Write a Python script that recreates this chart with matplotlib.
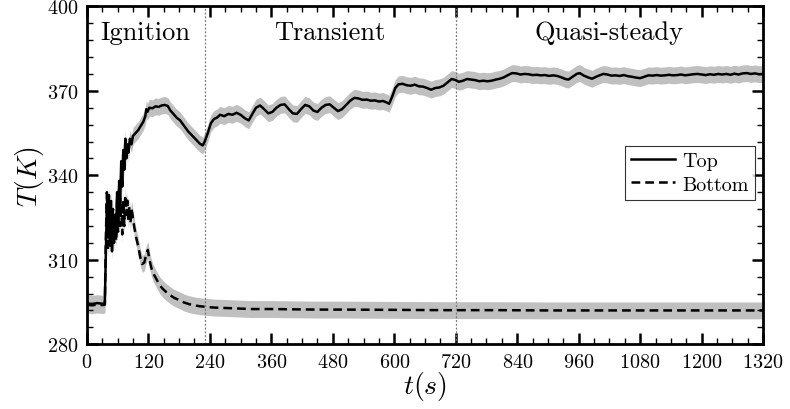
import matplotlib
matplotlib.use("Agg")
import matplotlib.pyplot as plt
import numpy as np

plt.rcParams.update({
    "font.family": "serif",
    "font.serif": ["cmr10"],
    "mathtext.fontset": "cm",
    "axes.unicode_minus": False,
    "axes.formatter.use_mathtext": True,
})

# Top thermocouple temperature history
t_top = [0, 10, 20, 30, 35, 37, 39, 41, 43, 45, 47, 49, 51, 53, 55, 57, 59, 61, 63, 65,
         67, 69, 71, 73, 75, 77, 79, 81, 84, 87, 90, 95, 100, 105, 110, 114, 116, 118, 122, 128,
         134, 140, 146, 152, 158, 163, 168, 175, 182, 190, 198, 206, 214, 220, 226, 230, 236, 242, 248, 254,
         260, 268, 276, 284, 292, 300, 308, 316, 322, 330, 338, 346, 354, 362, 370, 378, 386, 394, 402, 410,
         418, 426, 434, 442, 450, 458, 466, 474, 482, 490, 498, 506, 514, 522, 530, 538, 546, 554, 562, 570,
         578, 586, 590, 596, 602, 608, 616, 624, 632, 640, 648, 656, 664, 672, 680, 688, 696, 704, 712, 720,
         726, 734, 742, 750, 758, 766, 774, 782, 790, 798, 806, 814, 822, 830, 838, 846, 854, 862, 870, 878,
         886, 894, 902, 910, 918, 926, 934, 940, 948, 956, 962, 970, 978, 986, 994, 1002, 1008, 1016, 1024, 1032,
         1040, 1048, 1056, 1064, 1072, 1080, 1088, 1096, 1104, 1112, 1120, 1128, 1136, 1144, 1152, 1160, 1168, 1176, 1184, 1192,
         1200, 1208, 1216, 1224, 1232, 1240, 1248, 1256, 1264, 1272, 1280, 1288, 1296, 1304, 1312, 1320]
T_top = [294.5, 294.3, 294.6, 294.4, 294.5, 312, 330, 318, 333, 315, 328, 313, 322, 316, 326, 318, 334, 322, 338, 330,
         345, 336, 349, 342, 353, 346, 351, 348, 353, 351, 354, 355, 356, 357.5, 359, 361, 363.5, 362.5, 364, 363.8,
         364.5, 364.3, 364.8, 365, 364.6, 363, 362, 360.5, 359.5, 357.5, 355.5, 354, 352.5, 351.3, 350.6, 352, 355, 358.5, 360, 360.5,
         361.5, 361, 361.8, 361.5, 362.2, 361.5, 360.3, 359.5, 361.5, 364, 364.8, 363.5, 362, 362.5, 364, 365, 365.2, 363.5, 362, 361.8,
         363.5, 365, 364.5, 363, 362.5, 364, 365, 365.2, 364, 362.8, 363.5, 365, 366.5, 367.5, 367.3, 366.8, 366.9, 366.5, 366.6, 366.2,
         366.4, 365.8, 365.4, 368, 371, 372.3, 372.5, 372, 371.8, 372.2, 371.6, 371.5, 371, 370.4, 371, 371.2, 371.8, 373, 374.2, 373.8,
         373.2, 373.6, 374.2, 374, 373.8, 373.4, 373.6, 373.4, 373.6, 374, 374.3, 374.8, 375.6, 376.3, 376.2, 375.8, 376, 375.9, 375.6, 375.7,
         375.5, 375.6, 375.3, 375.5, 375.3, 374.8, 374.2, 374, 375, 376, 376.3, 375.4, 374.8, 374.3, 375, 375.6, 376, 375.8, 375.4, 375.5,
         375.3, 375.6, 375.2, 375, 374.7, 374.5, 375, 375.5, 375.4, 375.6, 375.4, 375.5, 375.7, 375.5, 375.6, 375.8, 375.5, 375.7, 375.9, 376,
         375.8, 375.6, 375.9, 375.7, 376, 375.8, 376, 375.7, 376.1, 375.8, 376.2, 376.3, 376, 376.2, 375.9, 376]

# Bottom thermocouple temperature history
t_bot = [0, 10, 20, 30, 35, 37, 39, 41, 43, 45, 47, 49, 51, 53, 55, 57, 59, 61, 63, 65,
         67, 69, 71, 73, 75, 77, 79, 81, 83, 85, 87, 89, 92, 96, 100, 104, 108, 112, 116, 119,
         122, 126, 130, 136, 142, 148, 155, 162, 170, 180, 190, 200, 210, 220, 230, 250, 280, 320, 360, 400,
         450, 500, 600, 700, 800, 900, 1000, 1100, 1200, 1320]
T_bot = [294, 293.8, 294.1, 293.9, 294, 318, 334, 313, 330, 320, 332, 316, 328, 318, 325, 317, 333, 320, 335, 322,
         330, 319, 331, 322, 333, 326, 331, 324, 329, 323, 328, 326, 322, 318, 315, 311, 308.5, 309, 312, 313.5,
         310, 307, 305, 303, 301, 299.7, 298.5, 297.5, 296.5, 295.7, 294.8, 294.2, 293.8, 293.5, 293.3, 293, 292.8, 292.5, 292.5, 292.4,
         292.3, 292.3, 292.2, 292.1, 292.1, 292, 292, 292, 292, 292]

# Measurement uncertainty (K)
uncertainty = 3.0

# Phase boundaries (s) and phase names
phase_bounds = [230, 720]
phase_names = ["Ignition", "Transient", "Quasi-steady"]
phase_centers = [115, 475, 1020]

x_ticks = list(range(0, 1321, 120))
y_ticks = [280, 310, 340, 370, 400]

fig = plt.figure(figsize=(7.9, 4.1), dpi=100)
ax = fig.add_axes([0.110, 0.158, 0.856, 0.824])

t_top_a = np.array(t_top)
T_top_a = np.array(T_top)
t_bot_a = np.array(t_bot)
T_bot_a = np.array(T_bot)

band = "#c0c0c0"
ax.fill_between(t_bot_a, T_bot_a - uncertainty, T_bot_a + uncertainty, color=band, lw=0, zorder=1)
ax.fill_between(t_top_a, T_top_a - uncertainty, T_top_a + uncertainty, color=band, lw=0, zorder=1)

ax.plot(t_top_a, T_top_a, color="black", lw=1.8, label="Top", zorder=3)
ax.plot(t_bot_a, T_bot_a, color="black", lw=1.8, ls=(0, (3.5, 2.0)), label="Bottom", zorder=3)

for xb in phase_bounds:
    ax.axvline(xb, color="#777777", lw=0.9, ls=(0, (1.5, 1.5)), zorder=2)

for name, xc in zip(phase_names, phase_centers):
    ax.text(xc, 391, name, ha="center", va="center", fontsize=19)

ax.set_xlim(0, 1320)
ax.set_ylim(280, 400)
ax.set_xticks(x_ticks)
ax.set_yticks(y_ticks)
ax.set_xticks(np.arange(0, 1321, 30), minor=True)
ax.set_yticks(np.arange(280, 401, 6), minor=True)

ax.tick_params(which="both", direction="in", top=True, right=True)
ax.tick_params(which="major", length=8, width=1.8, labelsize=14.5, pad=6)
ax.tick_params(which="minor", length=4.5, width=1.0)
for sp in ax.spines.values():
    sp.set_linewidth(2.0)

ax.set_xlabel(r"$t(s)$", fontsize=20, labelpad=-1)
ax.set_ylabel(r"$T(K)$", fontsize=20, labelpad=1)

leg = ax.legend(loc="upper right", bbox_to_anchor=(0.988, 0.586), borderaxespad=0,
                fontsize=14.5, frameon=True, fancybox=False, edgecolor="black",
                handlelength=2.2, handletextpad=0.35, borderpad=0.3, labelspacing=0.25)
leg.get_frame().set_linewidth(0.8)

fig.savefig("out.png", dpi=100)
